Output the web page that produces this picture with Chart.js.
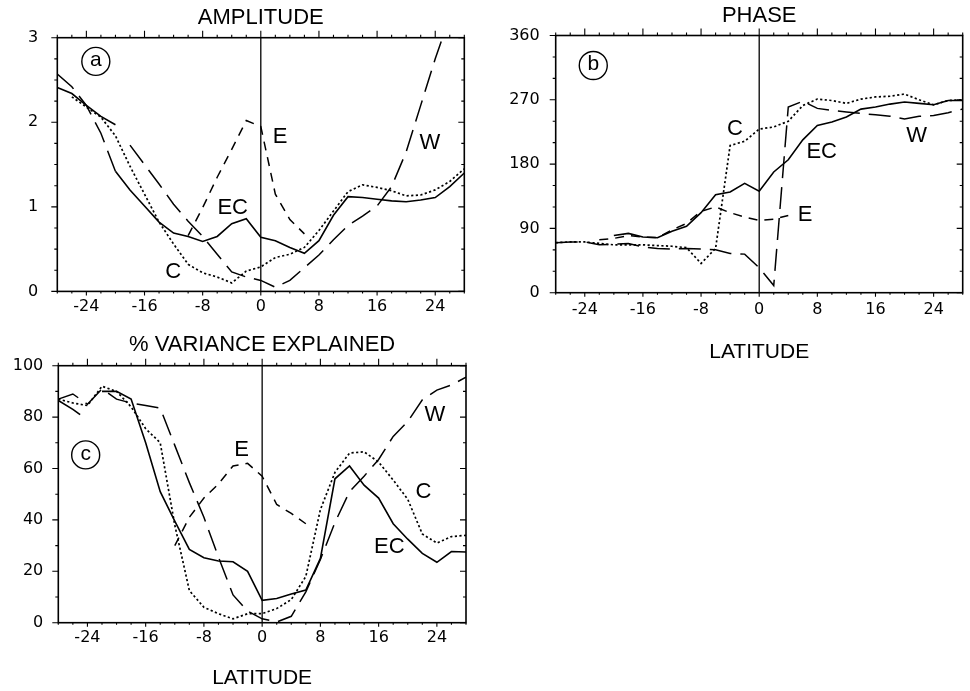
<!DOCTYPE html>
<html><head><meta charset="utf-8">
<script src="https://cdn.jsdelivr.net/npm/chart.js@4.4.1/dist/chart.umd.min.js"></script>
<style>
html,body{margin:0;padding:0;background:#fff;}
#wrap{position:relative;width:970px;height:691px;overflow:hidden;background:#fff;}
canvas{position:absolute;}
</style></head><body>
<div id="wrap">
<canvas id="ca" width="485" height="320" style="left:0;top:0;width:485px;height:320px"></canvas>
<canvas id="cb" width="485" height="380" style="left:485px;top:0;width:485px;height:380px"></canvas>
<canvas id="cc" width="485" height="371" style="left:0;top:320px;width:485px;height:371px"></canvas>
</div>
<script>
// ---------- data ----------
const lat = [-28,-26,-24,-22,-20,-18,-16,-14,-12,-10,-8,-6,-4,-2,0,2,4,6,8,10,12,14,16,18,20,22,24,26,28];
const xTicks = [-24,-16,-8,0,8,16,24];
const ampTicks = [0,1,2,3];
const phaseTicks = [0,90,180,270,360];
const varTicks = [0,20,40,60,80,100];
const equator = 0;

// (a) amplitude
const ampECsLat = [-28,-26,-24,-22,-20];
const ampECs = [2.41,2.34,2.20,2.07,1.97];
const ampEC = [null,null,null,null,1.42,1.20,1.01,0.82,0.69,0.65,0.59,0.65,0.80,0.86,0.64,0.60,0.52,0.45,0.60,0.90,1.12,1.11,1.09,1.07,1.06,1.08,1.11,1.24,1.40];
const ampC = [null,2.30,2.18,2.06,1.84,1.48,1.15,0.82,0.56,0.32,0.22,0.17,0.10,0.24,0.29,0.40,0.44,0.52,0.72,0.95,1.18,1.26,1.23,1.19,1.13,1.14,1.20,1.30,1.45];
const ampE = [null,null,null,null,null,null,null,null,null,0.66,0.99,1.35,1.68,2.02,1.95,1.15,0.85,0.68,null,null,null,null,null,null,null,null,null,null,null];
const ampWsLat = [-28,-26,-24,-22,-20];
const ampWs = [2.57,2.42,2.20,1.87,1.42];
const ampW = [null,null,null,null,null,1.73,1.50,1.27,1.03,0.83,0.65,0.44,0.23,0.17,0.13,0.05,0.13,0.28,0.43,0.61,0.78,0.89,1.01,1.24,1.65,2.20,2.75,3.25,null];

// (b) phase
const phEC = [null,null,null,null,80,83,78,77,86,93,112,137,141,153,142,169,186,214,234,239,246,257,260,264,267,265,263,269,269];
const phC = [70,71,71,69,67,67,67,66,65,63,41,62,206,212,229,232,240,262,271,269,265,271,274,275,278,270,263,269,270];
const phE = [null,null,null,74,76,80,78,77,88,97,114,120,112,106,101,103,108,null,null,null,null,null,null,null,null,null,null,null,null];
const phW = [70,71,71,67,68,69,64,62,61,62,61,60,55,54,35,10,260,268,258,255,253,251,249,247,243,247,248,252,257];

// (c) % variance explained
const varECsLat = [-28,-26,-25];
const varECs = [86.5,83,81];
const varEC = [null,null,null,90,90,87,70,51,39.5,28.5,25.3,24,23.7,20,8.7,9.4,11.2,12.7,25,56,61,53.5,48.5,38.5,32.5,27,23.5,27.7,27.5];
const varC = [87,85.5,84.5,92,90,84,75.5,70,38,12.5,6,3.5,1.5,3.5,3.5,5.5,9,18,44,58.5,66,66.5,62.5,55.5,48,34.5,31,33.5,34];
const varE = [null,null,null,null,null,null,null,null,30,41,48.5,54,61,62,57,46,42.5,38.5,null,null,null,null,null,null,null,null,null,null,null];
const varW = [87,89,85,91,87,85.5,84.5,83.5,69,54.5,41,25.5,10.8,4.5,1.5,0.3,2.5,12,24.6,39,51,57,63.5,72.5,78.3,86.7,90.5,92.5,95.5];

// curve labels (data coordinates)
const ampNotes = [{t:'a',x:-22.7,y:2.72,circle:true},{t:'E',x:2.64,y:1.83},{t:'EC',x:-3.87,y:0.99},{t:'C',x:-12.04,y:0.23},{t:'W',x:23.28,y:1.75}];
const phNotes = [{t:'b',x:-22.83,y:318,circle:true},{t:'C',x:-3.33,y:229.7},{t:'EC',x:8.6,y:197},{t:'E',x:6.3,y:108.5},{t:'W',x:21.67,y:220}];
const varNotes = [{t:'c',x:-24.24,y:65.3,circle:true},{t:'E',x:-2.81,y:67.2},{t:'W',x:23.74,y:80.8},{t:'C',x:22.14,y:51},{t:'EC',x:17.47,y:29.6}];

// ---------- styling ----------
const INK = '#000';
const TXT = '"Liberation Sans", Arial, Helvetica, sans-serif';
const NUM = '"DejaVu Sans", "Liberation Sans", sans-serif';
const styles = {
  EC: {borderDash: [], borderWidth: 1.6},
  C:  {borderDash: [2.2, 2.4], borderWidth: 1.7},
  E:  {borderDash: [9, 7], borderWidth: 1.5},
  W:  {borderDash: [22, 9], borderWidth: 1.5}
};
function series(xs, ys, kind) {
  return Object.assign({
    data: xs.map((x, i) => ({x: x, y: ys[i]})),
    borderColor: INK, backgroundColor: INK, fill: false,
    pointRadius: 0, tension: 0, spanGaps: false
  }, styles[kind]);
}
function zeroLine(ticks) {
  return {data: [{x: equator, y: ticks[0]}, {x: equator, y: ticks[ticks.length - 1]}],
          borderColor: INK, borderWidth: 1.3, pointRadius: 0, fill: false};
}

const framePlugin = {
  id: 'frame',
  afterDatasetsDraw(chart, args, o) {
    const ctx = chart.ctx, a = chart.chartArea, sx = chart.scales.x, sy = chart.scales.y;
    ctx.save();
    ctx.strokeStyle = INK;
    ctx.lineWidth = 1.6;
    ctx.strokeRect(a.left, a.top, a.right - a.left, a.bottom - a.top);
    ctx.lineWidth = 1.1;
    ctx.beginPath();
    const nx = Math.round((sx.max - sx.min) / o.xMinor);
    for (let i = 0; i <= nx; i++) {
      const v = sx.min + i * o.xMinor, p = sx.getPixelForValue(v);
      const maj = xTicks.some(t => Math.abs(t - v) < 1e-6);
      ctx.moveTo(p, a.top); ctx.lineTo(p, a.top - (maj ? 7 : 3));
      ctx.moveTo(p, a.bottom); ctx.lineTo(p, a.bottom + (maj ? 4 : 2));
    }
    const ny = Math.round((sy.max - sy.min) / o.yMinor);
    for (let i = 0; i <= ny; i++) {
      const v = sy.min + i * o.yMinor, p = sy.getPixelForValue(v);
      const maj = o.yMajor.some(t => Math.abs(t - v) < 1e-6);
      ctx.moveTo(a.left, p); ctx.lineTo(a.left - (maj ? 6 : 3), p);
      ctx.moveTo(a.right, p); ctx.lineTo(a.right - (maj ? 6 : 3), p);
    }
    ctx.stroke();
    ctx.fillStyle = INK;
    ctx.textAlign = 'center';
    ctx.textBaseline = 'middle';
    for (const L of o.notes) {
      const px = sx.getPixelForValue(L.x), py = sy.getPixelForValue(L.y);
      if (L.circle) {
        ctx.beginPath(); ctx.lineWidth = 1.4;
        ctx.arc(px, py, 14, 0, 2 * Math.PI); ctx.stroke();
        ctx.font = '21px ' + TXT;
        ctx.fillText(L.t, px, py - 1);
      } else {
        ctx.font = '22px ' + TXT;
        ctx.fillText(L.t, px, py);
      }
    }
    ctx.restore();
  }
};

function makeChart(id, cfg) {
  const yT = cfg.yTicks;
  return new Chart(document.getElementById(id), {
    type: 'line',
    data: {datasets: cfg.datasets},
    options: {
      responsive: false, animation: false, devicePixelRatio: 1,
      layout: {padding: {left: 0, right: cfg.padRight, top: 0, bottom: 0}},
      plugins: {
        legend: {display: false}, tooltip: {enabled: false},
        title: {display: true, text: cfg.title, fullSize: false, color: INK,
                font: {family: TXT, size: 22, weight: 'normal', lineHeight: 1.2},
                padding: {top: cfg.titleTop, bottom: cfg.titleBottom}},
        frame: {xMinor: 2, yMinor: cfg.yMinor, yMajor: yT, notes: cfg.notes}
      },
      scales: {
        x: {
          type: 'linear', min: -28, max: 28,
          grid: {display: false, drawTicks: false}, border: {display: false},
          afterBuildTicks: s => { s.ticks = xTicks.map(v => ({value: v})); },
          afterFit: s => { s.height = cfg.xHeight; },
          ticks: {color: INK, font: {family: NUM, size: 16}, padding: cfg.xPad,
                  maxRotation: 0, autoSkip: false, callback: v => String(v)},
          title: cfg.xTitle
            ? {display: true, text: 'LATITUDE', color: INK, font: {family: TXT, size: 21, lineHeight: 1.2},
               padding: {top: 0, bottom: cfg.xTitleBottom}}
            : {display: false}
        },
        y: {
          type: 'linear', min: yT[0], max: yT[yT.length - 1],
          grid: {display: false, drawTicks: false}, border: {display: false},
          afterBuildTicks: s => { s.ticks = yT.map(v => ({value: v})); },
          afterFit: s => { s.width = cfg.yWidth; },
          ticks: {color: INK, font: {family: NUM, size: 16}, padding: cfg.yPad,
                  autoSkip: false, callback: v => String(v)}
        }
      }
    },
    plugins: [framePlugin]
  });
}

makeChart('ca', {
  title: 'AMPLITUDE', titleTop: 5, titleBottom: 6.3,
  padRight: 20.7, yWidth: 57.3, yPad: 19, xHeight: 25, xPad: 6, xTitle: false,
  yTicks: ampTicks, yMinor: 0.25, notes: ampNotes,
  datasets: [zeroLine(ampTicks),
    series(ampECsLat, ampECs, 'EC'), series(lat, ampEC, 'EC'),
    series(lat, ampC, 'C'), series(lat, ampE, 'E'),
    series(ampWsLat, ampWs, 'W'), series(lat, ampW, 'W')]
});

makeChart('cb', {
  title: 'PHASE', titleTop: 3, titleBottom: 6.1,
  padRight: 7.3, yWidth: 70.7, yPad: 16, xHeight: 87.3, xPad: 8, xTitle: true, xTitleBottom: 15.4,
  yTicks: phaseTicks, yMinor: 30, notes: phNotes,
  datasets: [zeroLine(phaseTicks),
    series(lat, phEC, 'EC'), series(lat, phC, 'C'),
    series(lat, phE, 'E'), series(lat, phW, 'W')]
});

makeChart('cc', {
  title: '% VARIANCE EXPLAINED', titleTop: 12, titleBottom: 7.3,
  padRight: 19, yWidth: 58.3, yPad: 15, xHeight: 68.3, xPad: 6, xTitle: true, xTitleBottom: 0,
  yTicks: varTicks, yMinor: 10, notes: varNotes,
  datasets: [zeroLine(varTicks),
    series(varECsLat, varECs, 'EC'), series(lat, varEC, 'EC'),
    series(lat, varC, 'C'), series(lat, varE, 'E'), series(lat, varW, 'W')]
});
</script>
</body></html>
